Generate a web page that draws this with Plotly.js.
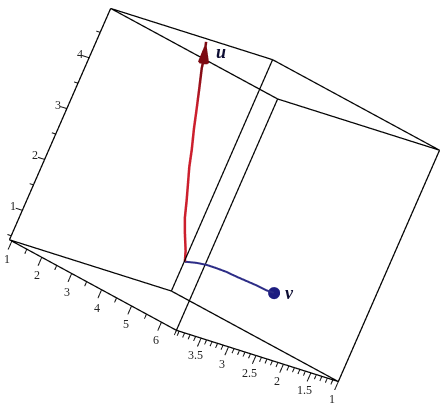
<!DOCTYPE html>
<html>
<head>
<meta charset="utf-8">
<script src="https://cdn.plot.ly/plotly-3.0.1.min.js"></script>
<style>html,body{margin:0;padding:0;background:#fff}#graphics{width:444px;height:405px}</style>
</head>
<body>
<div id="graphics"></div>
<script>
// box limits
var xLimits = [0.92, 6.5];
var yLimits = [1, 3.95];
var zLimits = [0.42, 4.97];

var xMajor = [1, 2, 3, 4, 5, 6];
var xMinor = [1.5, 2.5, 3.5, 4.5, 5.5, 6.5];
var yMajor = [1, 1.5, 2, 2.5, 3, 3.5];
var yMinor = [1.1, 1.2, 1.3, 1.4, 1.6, 1.7, 1.8, 1.9, 2.1, 2.2, 2.3, 2.4, 2.6, 2.7, 2.8, 2.9, 3.1, 3.2, 3.3, 3.4, 3.6, 3.7, 3.8, 3.9];
var zMajor = [1, 2, 3, 4];
var zMinor = [0.5, 1.5, 2.5, 3.5, 4.5];

// curve u, ends at the arrow tip
var uX = [0.94, 0.94, 0.94, 0.94, 0.94, 0.94, 0.94, 0.94, 0.94, 0.94, 0.94, 0.94, 0.94, 0.94];
var uY = [1, 1.066, 1.194, 1.311, 1.401, 1.497, 1.593, 1.672, 1.788, 1.885, 1.984, 2.086, 2.121, 2.201];
var uZ = [1, 1.195, 1.481, 1.769, 2.068, 2.366, 2.661, 2.964, 3.353, 3.715, 4.076, 4.437, 4.629, 4.917];
var uShade = [0, 0, 0, 0, 0, 0, 0, 0, 0, 0, 0.5, 1, 1, 1];

// curve v, ends at the ball
var vX = [0.94, 0.986, 1.268, 1.563, 1.873, 2.187, 2.513, 2.835, 3.157, 3.486, 3.713];
var vY = [1, 1, 1, 1, 1, 1, 1, 1, 1, 1, 1];
var vZ = [1, 1.015, 1.085, 1.139, 1.172, 1.199, 1.21, 1.227, 1.244, 1.251, 1.275];

var pad = 0.12;
function padded(r) {
  var w = r[1] - r[0];
  return [r[0] - pad * w, r[1] + pad * w];
}

// 12 edges of the box
var bx = [], by = [], bz = [];
function seg(a, b) {
  bx.push(a[0], b[0], null);
  by.push(a[1], b[1], null);
  bz.push(a[2], b[2], null);
}
[0, 1].forEach(function(i) {
  [0, 1].forEach(function(j) {
    seg([xLimits[0], yLimits[i], zLimits[j]], [xLimits[1], yLimits[i], zLimits[j]]);
    seg([xLimits[i], yLimits[0], zLimits[j]], [xLimits[i], yLimits[1], zLimits[j]]);
    seg([xLimits[i], yLimits[j], zLimits[0]], [xLimits[i], yLimits[j], zLimits[1]]);
  });
});

// tick marks
var tx = [], ty = [], tz = [];
function tick(a, b) {
  tx.push(a[0], b[0], null);
  ty.push(a[1], b[1], null);
  tz.push(a[2], b[2], null);
}
var zBig = 0.165, zSmall = 0.09, yBig = 0.12, ySmall = 0.07;
xMajor.forEach(function(v) { tick([v, yLimits[1], zLimits[0]], [v, yLimits[1], zLimits[0] - zBig]); });
xMinor.forEach(function(v) { tick([v, yLimits[1], zLimits[0]], [v, yLimits[1], zLimits[0] - zSmall]); });
yMajor.forEach(function(v) { tick([xLimits[1], v, zLimits[0]], [xLimits[1], v, zLimits[0] - zBig]); });
yMinor.forEach(function(v) { tick([xLimits[1], v, zLimits[0]], [xLimits[1], v, zLimits[0] - zSmall]); });
zMajor.forEach(function(v) { tick([xLimits[0], yLimits[1], v], [xLimits[0], yLimits[1] + yBig, v]); });
zMinor.forEach(function(v) { tick([xLimits[0], yLimits[1], v], [xLimits[0], yLimits[1] + ySmall, v]); });

var labels = [];
var tickFont = {family: 'Liberation Serif', size: 12, color: '#222'};
function addLabel(x, y, z, text, dx, dy, font) {
  labels.push({x: x, y: y, z: z, text: text, showarrow: false, xshift: dx, yshift: dy, font: font});
}
xMajor.forEach(function(v) { addLabel(v, yLimits[1], zLimits[0], String(v), -5, -18, tickFont); });
yMajor.forEach(function(v) { addLabel(xLimits[1], v, zLimits[0], String(v), -6, -17, tickFont); });
zMajor.forEach(function(v) { addLabel(xLimits[0], yLimits[1], v, String(v), -9, 4, tickFont); });
var nameFont = {family: 'Liberation Serif', size: 18, color: '#0d0d33'};
var uEnd = uX.length - 1, vLast = vX.length - 1;
addLabel(uX[uEnd], uY[uEnd], uZ[uEnd], '<b><i>u</i></b>', 15, -10, nameFont);
addLabel(vX[vLast], vY[vLast], vZ[vLast], '<b><i>v</i></b>', 16, 0, nameFont);

var boxTrace = {type: 'scatter3d', mode: 'lines', x: bx, y: by, z: bz, line: {color: '#000', width: 2.5}, hoverinfo: 'skip', showlegend: false};
var tickTrace = {type: 'scatter3d', mode: 'lines', x: tx, y: ty, z: tz, line: {color: '#111', width: 2}, hoverinfo: 'skip', showlegend: false};
var uTrace = {type: 'scatter3d', mode: 'lines', x: uX, y: uY, z: uZ, hoverinfo: 'skip', showlegend: false,
  line: {width: 5, color: uShade, cmin: 0, cmax: 1, colorscale: [[0, '#cc1f2d'], [1, '#7d0a12']]}};
var vTrace = {type: 'scatter3d', mode: 'lines', x: vX, y: vY, z: vZ, hoverinfo: 'skip', showlegend: false,
  line: {width: 4, color: '#2c2c86'}};
var vBall = {type: 'scatter3d', mode: 'markers', x: [vX[vLast]], y: [vY[vLast]], z: [vZ[vLast]], hoverinfo: 'skip', showlegend: false,
  marker: {size: 7, color: '#1d1d80'}};
var uHead = {type: 'cone', x: [uX[uEnd]], y: [uY[uEnd]], z: [uZ[uEnd]], u: [0], v: [uY[uEnd] - uY[uEnd - 1]], w: [uZ[uEnd] - uZ[uEnd - 1]],
  anchor: 'tip', sizemode: 'absolute', sizeref: 0.38, showscale: false, hoverinfo: 'skip',
  colorscale: [[0, '#7d0a12'], [1, '#7d0a12']], lighting: {ambient: 1, diffuse: 0, specular: 0}};

function hidden(r) {
  return {visible: false, range: padded(r), autorange: false};
}

var layout = {
  width: 444,
  height: 405,
  margin: {l: 0, r: 0, t: 0, b: 0},
  paper_bgcolor: '#fff',
  showlegend: false,
  scene: {
    domain: {x: [0.011, 1], y: [0.037, 1]},
    aspectmode: 'manual',
    aspectratio: {x: 1.613, y: 1.613, z: 1.613},
    xaxis: hidden(xLimits),
    yaxis: hidden(yLimits),
    zaxis: hidden(zLimits),
    camera: {
      eye: {x: -1.328, y: -1.488, z: -0.19},
      up: {x: -0.357, y: 0.202, z: 0.912},
      center: {x: 0, y: 0, z: 0},
      projection: {type: 'orthographic'}
    },
    annotations: labels
  }
};

Plotly.newPlot('graphics', [boxTrace, tickTrace, uTrace, vTrace, vBall, uHead], layout, {displayModeBar: false});
</script>
</body>
</html>
